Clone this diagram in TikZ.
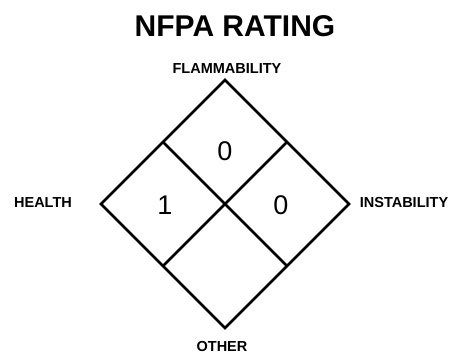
\documentclass[tikz,border=0pt]{standalone}
\usepackage{fontspec}
\setmainfont{Liberation Sans}
\usetikzlibrary{calc}
\begin{document}
\begin{tikzpicture}[x=1pt,y=1pt,
  lbl/.style={font=\fontsize{14.5}{16}\selectfont\bfseries, anchor=base, inner sep=0pt},
  num/.style={font=\fontsize{27}{30}\selectfont, anchor=center, inner sep=0pt},
  edge/.style={line width=2.6pt, line join=miter}]
\useasboundingbox (0,0) rectangle (453,354);
\fill[white] (0,0) rectangle (453,354);
\node[font=\fontsize{30}{34}\selectfont\bfseries, anchor=base, inner sep=0pt] (title) at (235,317) {NFPA RATING};
\coordinate (T) at (225,274);
\coordinate (L) at (101,150);
\coordinate (R) at (349,150);
\coordinate (B) at (225,26);
\coordinate (C) at (225,150);
\coordinate (UL) at ($(T)!0.5!(L)$);
\coordinate (UR) at ($(T)!0.5!(R)$);
\coordinate (LL) at ($(B)!0.5!(L)$);
\coordinate (LR) at ($(B)!0.5!(R)$);
\draw[edge] (T) -- (R) -- (B) -- (L) -- cycle;
\draw[edge] (UL) -- (LR);
\draw[edge] (UR) -- (LL);
\node[lbl] (flam) at (227,280) {FLAMMABILITY};
\node[lbl] (health) at (43,146) {HEALTH};
\node[lbl] (inst) at (404,146) {INSTABILITY};
\node[lbl] (other) at (222,2.5) {OTHER};
\node[num] (nf) at (225,203) {0};
\node[num] (nh) at (165,149) {1};
\node[num] (ni) at (281,149) {0};
\end{tikzpicture}
\end{document}
